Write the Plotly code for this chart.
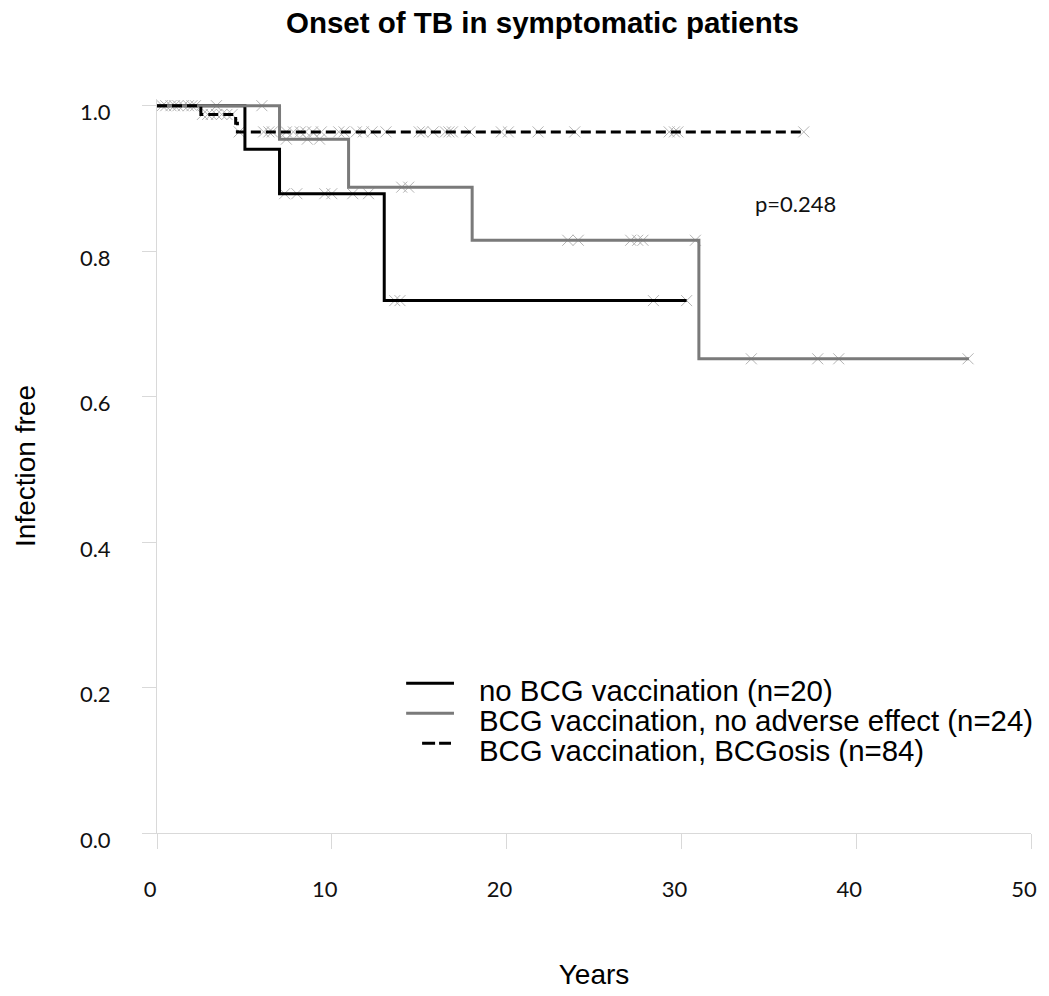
import plotly.graph_objects as go

# ---------------- data ----------------
# Kaplan-Meier steps: time in years, fraction infection free
no_bcg_t = [0, 5.03, 7.01, 13.0, 30.3]
no_bcg_s = [1.0, 0.940, 0.879, 0.732, 0.732]
no_bcg_cens = [7.3, 8.0, 9.6, 10.0, 11.2, 12.1, 13.6, 13.9, 28.4, 30.3]

bcg_t = [0, 7.01, 10.96, 18.03, 31.0, 46.45]
bcg_s = [1.0, 0.954, 0.888, 0.815, 0.652, 0.652]
bcg_cens = [3.4, 6.0, 7.4, 8.6, 9.3, 14.0, 14.4, 23.5, 24.1, 27.1, 27.5,
            27.8, 30.8, 34.0, 37.8, 39.0, 46.4]

bcgosis_t = [0, 2.51, 4.5, 4.6, 37.1]
bcgosis_s = [1.0, 0.988, 0.976, 0.964, 0.964]
bcgosis_cens = [0.3, 0.5, 0.8, 1.0, 1.2, 1.5, 1.8, 2.0, 2.2,
                2.6, 2.9, 3.1, 3.4, 3.7, 4.0, 4.3,
                4.7, 6.1, 6.4, 6.6, 7.4, 7.8, 8.2, 8.5, 8.9, 9.4, 10.4, 10.7,
                11.4, 11.8, 12.3, 13.1, 15.0, 15.2, 15.8, 16.5, 16.7, 16.9,
                17.9, 19.7, 20.1, 21.8, 23.9, 29.3, 29.6, 29.8, 37.0]

series_names = ["no BCG vaccination (n=20)",
                "BCG vaccination, no adverse effect (n=24)",
                "BCG vaccination, BCGosis (n=84)"]
x_ticks = [0, 10, 20, 30, 40, 50]
y_ticks = [0.0, 0.2, 0.4, 0.6, 0.8, 1.0]
p_text = "p=0.248"
p_pos = (36.5, 0.865)


def surv_at(t, times, surv):
    v = surv[0]
    for tt, ss in zip(times, surv):
        if tt <= t:
            v = ss
    return v


# ---------------- figure ----------------
W, H = 1049, 996
ML, MR, MT, MB = 157, 15, 99, 163
PW, PH = W - ML - MR, H - MT - MB
Y_PX_PER_UNIT = 727.3


def px_x(px):
    return (px - ML) / PW


def px_y(py):
    return (H - MB - py) / PH


groups = [
    (no_bcg_t, no_bcg_s, no_bcg_cens, dict(color="#000000", width=3)),
    (bcg_t, bcg_s, bcg_cens, dict(color="#7a7a7a", width=3)),
    (bcgosis_t, bcgosis_s, bcgosis_cens, dict(color="#000000", width=3, dash="10px,5px")),
]

fig = go.Figure()

# censor marks first (under the lines)
for t, s, c, ln in groups:
    fig.add_trace(go.Scatter(
        x=c, y=[surv_at(v, t, s) for v in c], mode="markers",
        marker=dict(symbol="x-thin", size=11, line=dict(width=1, color="#b5b5b5")),
        showlegend=False, hoverinfo="skip", cliponaxis=False))

for (t, s, c, ln), name in zip(groups, series_names):
    fig.add_trace(go.Scatter(
        x=t, y=s, mode="lines", line=dict(shape="hv", **ln),
        name=name, showlegend=False))

# manual legend
leg_rows = [683.3, 713.3, 743.3]
leg_text_y = [690.3, 720.8, 750.2]
shapes = []
for i, (t, s, c, ln) in enumerate(groups):
    if "dash" in ln:
        x0, x1 = 423, 452
        dash = "13px,4px"
    else:
        x0, x1 = 407, 455
        dash = "solid"
    shapes.append(dict(type="line", xref="paper", yref="paper",
                       x0=px_x(x0), x1=px_x(x1), y0=px_y(leg_rows[i]), y1=px_y(leg_rows[i]),
                       line=dict(color=ln["color"], width=3, dash=dash)))

annotations = []
for i, name in enumerate(series_names):
    annotations.append(dict(text=name, xref="paper", yref="paper",
                            x=px_x(478), y=px_y(leg_text_y[i]),
                            xanchor="left", yanchor="middle", showarrow=False,
                            font=dict(family="Liberation Sans, Arial", size=29.4, color="#000000")))

annotations.append(dict(text=p_text, x=p_pos[0], y=p_pos[1], xref="x", yref="y",
                        xanchor="center", yanchor="middle", showarrow=False,
                        font=dict(family="Lato", size=22, color="#111111")))

fig.update_layout(
    width=W, height=H,
    margin=dict(l=ML, r=MR, t=MT, b=MB),
    paper_bgcolor="white", plot_bgcolor="white",
    showlegend=False,
    title=dict(text="<b>Onset of TB in symptomatic patients</b>",
               x=542.5 / W, xref="container", xanchor="center",
               y=1 - 22.5 / H, yref="container", yanchor="middle",
               font=dict(family="Liberation Sans, Arial", size=29.5, color="#000000")),
    shapes=shapes,
    annotations=annotations,
)

fig.update_xaxes(
    range=[0, 50], tickvals=x_ticks, ticktext=[str(v) for v in x_ticks],
    showgrid=False, zeroline=False, showline=True, linecolor="#d9d9d9", linewidth=1,
    ticks="outside", ticklen=15, tickcolor="#d9d9d9", tickwidth=1,
    tickfont=dict(family="Lato", size=22, color="#111111"),
    ticklabelstandoff=22, ticklabelshift=-7,
    title=dict(text="Years", standoff=62,
               font=dict(family="Liberation Sans, Arial", size=28, color="#000000")),
)
fig.update_yaxes(
    range=[0, PH / Y_PX_PER_UNIT], tickvals=y_ticks, ticktext=[f"{v:.1f}" for v in y_ticks],
    showgrid=False, zeroline=False, showline=True, linecolor="#d9d9d9", linewidth=1,
    ticks="outside", ticklen=14, tickcolor="#d9d9d9", tickwidth=1,
    tickfont=dict(family="Lato", size=22, color="#111111"),
    ticklabelstandoff=27, ticklabelshift=7,
    title=dict(text="Infection free", standoff=36,
               font=dict(family="Liberation Sans, Arial", size=28, color="#000000")),
)

fig.write_html("out.html")
